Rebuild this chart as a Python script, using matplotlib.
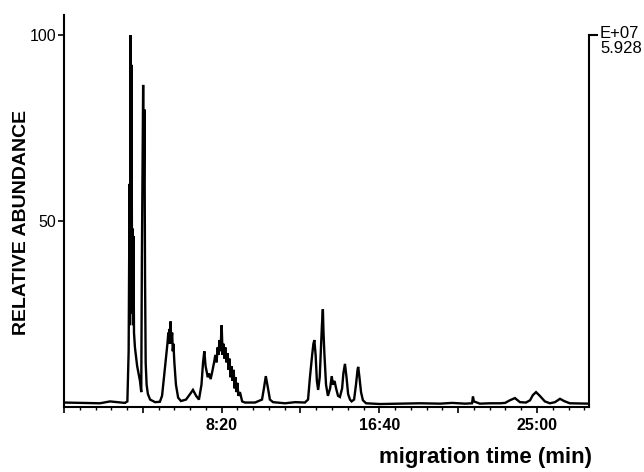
import matplotlib
matplotlib.use("Agg")
import matplotlib.pyplot as plt
from matplotlib.ticker import MultipleLocator, FuncFormatter

plt.rcParams['font.family'] = ['Liberation Sans', 'DejaVu Sans']

# trace: migration time (s) and relative abundance (%)
time_s = [0, 114, 146, 193, 201, 205, 208, 209, 211, 213, 214, 216, 217, 219,
          220, 222, 225, 232, 241, 245, 247, 249, 251, 253, 255, 257, 259, 262,
          266, 273, 289, 304, 311, 317, 323, 328, 331, 333, 334, 336, 338, 340,
          343, 345, 347, 350, 355, 362, 371, 387, 400, 409, 419, 428, 436, 441,
          445, 449, 456, 460, 465, 469, 476, 480, 484, 487, 490, 493, 496, 500,
          503, 506, 509, 512, 515, 519, 522, 525, 528, 531, 534, 538, 541, 544,
          547, 550, 553, 558, 565, 574, 606, 628, 634, 640, 647, 653, 663, 701,
          733, 764, 774, 780, 787, 791, 794, 798, 802, 806, 811, 815, 818, 821,
          823, 826, 831, 837, 844, 849, 853, 858, 863, 869, 875, 882, 886, 891,
          896, 901, 907, 912, 920, 926, 931, 933, 937, 942, 948, 958, 1002, 1066,
          1129, 1193, 1231, 1272, 1294, 1297, 1300, 1319, 1351, 1383, 1399, 1414,
          1430, 1446, 1465, 1478, 1487, 1497, 1509, 1525, 1541, 1557, 1573, 1586,
          1604, 1665]
abundance = [1.2, 1.0, 1.5, 1.1, 1.5, 15, 60, 22, 100, 30, 92, 25, 48, 22,
             46, 20, 16, 11, 7, 4, 40, 62, 86.6, 58, 80, 35, 12, 6,
             3.5, 2, 1.3, 1.4, 3, 8, 13, 17, 20, 17, 21, 18, 23, 17,
             20, 15, 17, 12, 6, 2.5, 1.6, 2, 3.5, 4.6, 3, 2, 6, 12,
             15, 11, 8, 9, 7.5, 9, 12, 14, 12, 16, 14, 18, 15, 22,
             14, 17, 13, 16, 12, 14.5, 10, 13, 8, 11, 7, 10, 5, 8,
             4, 6.5, 3, 4, 1.5, 1.2, 1.2, 2, 5, 8.3, 5, 2, 1.3, 1.0,
             1.3, 1.2, 2, 8, 14, 17, 18, 14, 7, 4.6, 8, 16, 22, 26.3,
             20, 14, 6, 3, 5, 8.3, 6, 7, 5, 3, 2.7, 5, 9, 11.6,
             8, 3.5, 2, 1.5, 2, 6, 10, 10.8, 8, 4, 1.8, 1.0, 0.8, 0.9,
             1.0, 0.9, 1.1, 0.9, 1.0, 2.8, 1.5, 0.9, 1.0, 1.0, 1.1, 1.8,
             2.4, 1.3, 1.2, 1.8, 3.2, 4, 3, 1.5, 1.0, 1.3, 2.2, 1.6,
             1.0, 0.9]

time_labels_at = [500, 1000, 1500]
scale_text = ["E+07", "5.928"]


def mmss(t, pos):
    t = int(round(t))
    if t in time_labels_at:
        return "%d:%02d" % (t // 60, t % 60)
    return ""


fig = plt.figure(figsize=(6.44, 4.72), dpi=100)
ax = fig.add_axes([64 / 644, 65 / 472, 525 / 644, 392 / 472])

ax.plot(time_s, abundance, color='black', lw=1.7, solid_joinstyle='miter')

ax.set_xlim(0, 1665)
ax.set_ylim(0, 105.4)

for side in ['left', 'bottom', 'right']:
    ax.spines[side].set_linewidth(1.5)
ax.spines['top'].set_visible(False)
ax.spines['right'].set_bounds(0, 100)

ax.xaxis.set_major_locator(MultipleLocator(250))
ax.xaxis.set_minor_locator(MultipleLocator(50))
ax.xaxis.set_major_formatter(FuncFormatter(mmss))
ax.tick_params(axis='x', which='major', length=4, width=1.2, pad=4,
               labelsize=11.5)
ax.tick_params(axis='x', which='minor', length=2.5, width=1.0)
for lab in ax.get_xticklabels():
    lab.set_fontweight('bold')

ax.set_yticks([50, 100])
ax.tick_params(axis='y', length=4.5, width=1.2, pad=1, labelsize=11.5)

# right scale marker
tr = ax.get_yaxis_transform()
ax.plot([1.0, 1.0 + 8 / 525], [100, 100], color='black', lw=1.5,
        transform=tr, clip_on=False)
ax.text(1.0 + 11 / 525, 100.4, scale_text[0], transform=tr, fontsize=12,
        ha='left', va='center')
ax.text(1.0 + 11 / 525, 96.4, scale_text[1], transform=tr, fontsize=12,
        ha='left', va='center')

fig.text(22 / 644, 1 - 222 / 472, "RELATIVE ABUNDANCE", rotation=90,
         fontsize=14, fontweight='bold', ha='center', va='center')
fig.text(592 / 644, 1 - 463 / 472, "migration time (min)", fontsize=16,
         fontweight='bold', ha='right', va='baseline')

fig.savefig("out.png", dpi=100)
